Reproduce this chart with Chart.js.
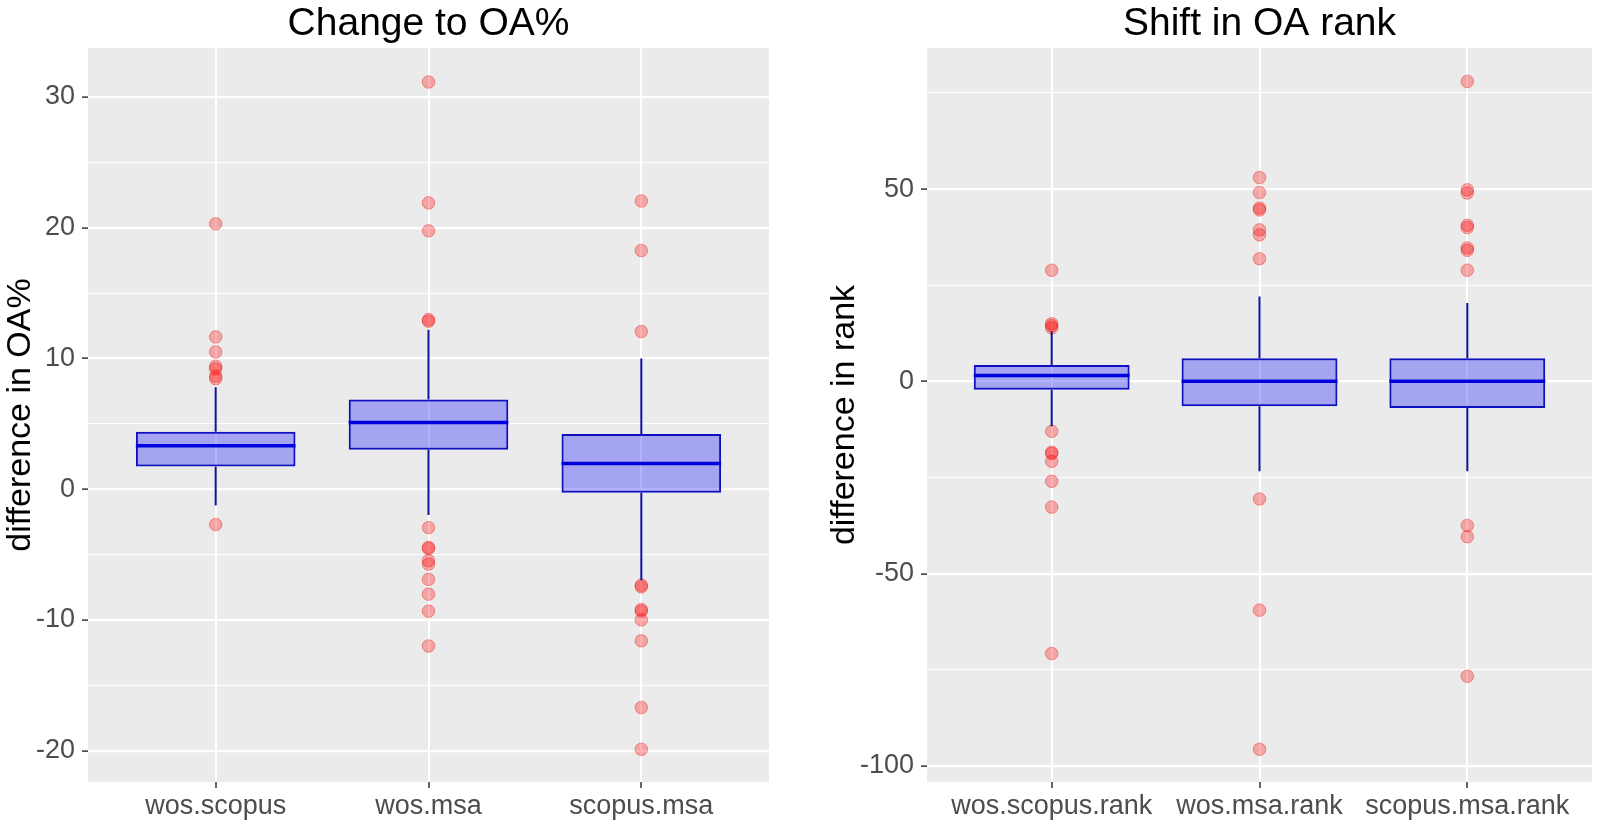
<!DOCTYPE html>
<html>
<head>
<meta charset="utf-8">
<script src="https://cdn.jsdelivr.net/npm/chart.js@4.4.0/dist/chart.umd.min.js"></script>
<style>
  html, body { margin: 0; padding: 0; background: #ffffff; }
  #wrap { position: relative; width: 1600px; height: 826px; }
  canvas { position: absolute; top: 0; }
  #chart1 { left: 0; }
  #chart2 { left: 800px; }
</style>
</head>
<body>
<div id="wrap">
  <canvas id="chart1" width="800" height="826"></canvas>
  <canvas id="chart2" width="800" height="826"></canvas>
</div>
<script>
// Panel 1: change to OA%
const categoriesOA = ['wos.scopus', 'wos.msa', 'scopus.msa'];
const q1OA = [1.73, 3.02, -0.28];
const medianOA = [3.33, 5.11, 1.97];
const q3OA = [4.4, 6.87, 4.22];
const whiskerLowOA = [-1.25, -1.97, -6.96];
const whiskerHighOA = [7.8, 12.2, 10.0];
const outliersOA = [
    [20.3, 11.65, 10.5, 9.4, 9.2, 8.65, 8.45, -2.7],
    [31.15, 21.9, 19.76, 12.97, 12.85, -2.94, -4.45, -4.55, -5.47, -5.73, -6.9, -8.03, -9.33, -12.0],
    [22.05, 18.26, 12.06, -7.34, -7.47, -9.2, -9.33, -10.0, -11.6, -16.7, -19.9]
];
const yTicksOA = [-20, -10, 0, 10, 20, 30];
const yMinorOA = [-15, -5, 5, 15, 25];
const yRangeOA = [-22.4, 33.75];

// Panel 2: shift in OA rank
const categoriesRank = ['wos.scopus.rank', 'wos.msa.rank', 'scopus.msa.rank'];
const q1Rank = [-2.16, -6.5, -6.9];
const medianRank = [1.5, 0, 0];
const q3Rank = [4.25, 6.0, 6.0];
const whiskerLowRank = [-11.7, -23.4, -23.4];
const whiskerHighRank = [13.0, 22.1, 20.4];
const outliersRank = [
    [28.9, 15.0, 14.5, 13.9, -13.0, -18.45, -18.8, -20.8, -26.0, -32.7, -70.8],
    [53.0, 49.1, 45.1, 44.6, 39.4, 38.1, 31.9, -30.6, -59.5, -95.7],
    [78.0, 49.8, 49.0, 40.6, 40.0, 34.7, 34.1, 28.9, -37.5, -40.4, -76.7]
];
const yTicksRank = [-100, -50, 0, 50];
const yMinorRank = [-75, -25, 25, 75];
const yRangeRank = [-104.2, 86.7];

const BOX_WIDTH = 0.75;
const FONT = "'Liberation Sans', Arial, sans-serif";

// grey panel background like ggplot
const panelBackground = {
    id: 'panelBackground',
    beforeDraw(chart) {
        const { ctx, chartArea } = chart;
        ctx.save();
        ctx.fillStyle = '#EBEBEB';
        ctx.fillRect(chartArea.left, chartArea.top, chartArea.right - chartArea.left, chartArea.bottom - chartArea.top);
        ctx.restore();
    }
};

function buildBoxChart(canvasId, opts) {
    const { cats, q1, med, q3, lo, hi, outliers, ticks, minor, range, title, yTitle, axisWidth, titlePad, rightPad } = opts;

    const boxes = q1.map((v, i) => ({ x: i + 1, y: [v, q3[i]] }));

    const whiskers = [];
    lo.forEach((v, i) => {
        whiskers.push({ x: i + 1, y: v }, { x: i + 1, y: q1[i] }, { x: i + 1, y: null });
        whiskers.push({ x: i + 1, y: q3[i] }, { x: i + 1, y: hi[i] }, { x: i + 1, y: null });
    });

    const medians = [];
    med.forEach((v, i) => {
        medians.push({ x: i + 1 - BOX_WIDTH / 2, y: v }, { x: i + 1 + BOX_WIDTH / 2, y: v }, { x: i + 1, y: null });
    });

    const points = [];
    outliers.forEach((list, i) => list.forEach(v => points.push({ x: i + 1, y: v })));

    const allTicks = ticks.concat(minor).sort((a, b) => a - b);
    const isMajor = v => ticks.includes(v);

    return new Chart(document.getElementById(canvasId).getContext('2d'), {
        type: 'bar',
        data: {
            datasets: [
                {
                    type: 'line',
                    data: medians,
                    borderColor: '#0000DD',
                    borderWidth: 3.5,
                    pointRadius: 0,
                    spanGaps: false,
                    order: 1
                },
                {
                    type: 'bar',
                    data: boxes,
                    backgroundColor: 'rgba(0, 0, 255, 0.3)',
                    borderColor: '#1010C0',
                    borderWidth: 2,
                    borderSkipped: false,
                    categoryPercentage: 1,
                    barPercentage: BOX_WIDTH,
                    order: 2
                },
                {
                    type: 'line',
                    data: whiskers,
                    borderColor: '#10109A',
                    borderWidth: 2,
                    pointRadius: 0,
                    spanGaps: false,
                    order: 3
                },
                {
                    type: 'scatter',
                    data: points,
                    backgroundColor: 'rgba(255, 0, 0, 0.3)',
                    borderColor: 'rgba(230, 0, 0, 0.35)',
                    borderWidth: 1,
                    pointRadius: 6.3,
                    order: 4
                }
            ]
        },
        options: {
            responsive: false,
            animation: false,
            events: [],
            layout: { padding: { top: 0, left: 0, right: rightPad, bottom: 0 } },
            plugins: {
                legend: { display: false },
                tooltip: { enabled: false },
                title: {
                    display: true,
                    text: title,
                    fullSize: false,
                    color: '#000000',
                    font: { family: FONT, size: 39, weight: 'normal', lineHeight: 0.9 },
                    padding: { top: 6.5, bottom: 6.4 }
                }
            },
            scales: {
                x: {
                    type: 'linear',
                    min: 0.4,
                    max: 3.6,
                    offset: false,
                    afterBuildTicks: s => { s.ticks = cats.map((c, i) => ({ value: i + 1 })); },
                    afterFit: s => { s.height = 44; },
                    ticks: {
                        autoSkip: false,
                        maxRotation: 0,
                        padding: 2,
                        color: '#4D4D4D',
                        font: { family: FONT, size: 27, lineHeight: 1.2 },
                        callback: v => cats[v - 1]
                    },
                    grid: {
                        offset: false,
                        color: '#FFFFFF',
                        lineWidth: 2,
                        tickLength: 6,
                        tickColor: '#333333',
                        tickWidth: 1.5
                    },
                    border: { display: false }
                },
                y: {
                    type: 'linear',
                    min: range[0],
                    max: range[1],
                    afterBuildTicks: s => { s.ticks = allTicks.map(v => ({ value: v })); },
                    afterFit: s => { s.width = axisWidth; },
                    ticks: {
                        autoSkip: false,
                        padding: 7,
                        color: '#4D4D4D',
                        font: { family: FONT, size: 27 },
                        callback: v => (isMajor(v) ? String(v) : '')
                    },
                    grid: {
                        color: '#FFFFFF',
                        lineWidth: c => (c.tick && isMajor(c.tick.value) ? 2.2 : 1.1),
                        tickLength: 6,
                        tickColor: c => (c.tick && isMajor(c.tick.value) ? '#333333' : 'rgba(0,0,0,0)'),
                        tickWidth: 1.5
                    },
                    border: { display: false },
                    title: {
                        display: true,
                        text: yTitle,
                        color: '#000000',
                        font: { family: FONT, size: 34, lineHeight: 1.2 },
                        padding: { top: titlePad, bottom: 0 }
                    }
                }
            }
        },
        plugins: [panelBackground]
    });
}

buildBoxChart('chart1', {
    cats: categoriesOA, q1: q1OA, med: medianOA, q3: q3OA,
    lo: whiskerLowOA, hi: whiskerHighOA, outliers: outliersOA,
    ticks: yTicksOA, minor: yMinorOA, range: yRangeOA,
    title: 'Change to OA%', yTitle: 'difference in OA%',
    axisWidth: 88, titlePad: 0, rightPad: 31
});

buildBoxChart('chart2', {
    cats: categoriesRank, q1: q1Rank, med: medianRank, q3: q3Rank,
    lo: whiskerLowRank, hi: whiskerHighRank, outliers: outliersRank,
    ticks: yTicksRank, minor: yMinorRank, range: yRangeRank,
    title: 'Shift in OA rank', yTitle: 'difference in rank',
    axisWidth: 127, titlePad: 24.5, rightPad: 8
});
</script>
</body>
</html>
